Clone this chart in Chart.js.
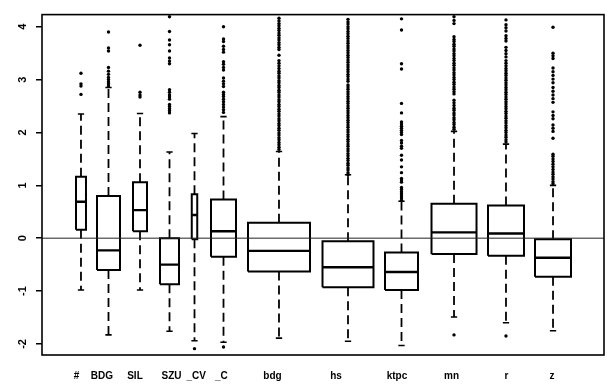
<!DOCTYPE html>
<html>
<head>
<meta charset="utf-8">
<script src="https://cdn.jsdelivr.net/npm/chart.js@4"></script>
<style>
  body { margin: 0; background: #fff; }
  #wrap { width: 612px; height: 386px; }
</style>
</head>
<body>
<div id="wrap"><canvas id="boxChart" width="612" height="386"></canvas></div>
<script>
// kategori (satu label per kotak)
const labels = ["#", "BDG", "SIL", "SZU", "_CV", "_C", "bdg", "hs", "ktpc", "mn", "r", "z"];

// posisi kotak dan lebar kotak (varwidth) pada sumbu x
const positions = [0.867, 1.479, 2.18, 2.836, 3.392, 4.037, 5.271, 6.806, 7.996, 9.164, 10.32, 11.366];
const widths = [0.222, 0.512, 0.311, 0.423, 0.122, 0.556, 1.379, 1.134, 0.734, 1.001, 0.801, 0.801];
const labelPositions = [0.767, 1.334, 2.068, 2.88, 3.43, 3.99, 5.127, 6.539, 7.896, 9.108, 10.331, 11.343];

// statistik kotak
const q1 = [0.16, -0.6, 0.13, -0.87, -0.02, -0.35, -0.63, -0.93, -0.98, -0.3, -0.33, -0.73];
const medians = [0.69, -0.23, 0.53, -0.5, 0.44, 0.13, -0.24, -0.55, -0.64, 0.11, 0.09, -0.37];
const q3 = [1.16, 0.8, 1.06, 0.0, 0.83, 0.73, 0.29, -0.06, -0.27, 0.65, 0.62, -0.02];
const whiskerLow = [-0.98, -1.83, -0.98, -1.76, -1.94, -1.97, -1.89, -1.95, -2.03, -1.49, -1.6, -1.75];
const whiskerHigh = [2.35, 2.85, 2.36, 1.63, 1.98, 2.3, 1.64, 1.2, 0.7, 2.02, 1.78, 1.0];

// pencilan (outlier) per kotak
const outliers = [
  [2.72, 2.88, 2.92, 3.12],
  [2.88, 2.92, 2.96, 3.0, 3.04, 3.1, 3.16, 3.23, 3.54, 3.6, 3.9],
  [2.67, 2.71, 2.76, 3.65],
  [2.37, 2.41, 2.45, 2.49, 2.53, 2.63, 2.67, 2.71, 2.76, 2.81, 3.3, 3.35, 3.41, 3.54, 3.66, 3.75, 3.91, 4.19],
  [-2.09],
  [-2.06, 2.38, 2.43, 2.48, 2.53, 2.58, 2.63, 2.68, 2.72, 2.76, 2.87, 2.92, 2.97, 3.03, 3.18, 3.23, 3.29, 3.34, 3.52, 3.57, 3.63, 3.72, 3.77, 4.0],
  [1.68, 1.72, 1.77, 1.81, 1.86, 1.9, 1.95, 1.99, 2.04, 2.08, 2.13, 2.17, 2.22, 2.26, 2.31, 2.35, 2.4, 2.44, 2.49, 2.53,
   2.58, 2.62, 2.67, 2.71, 2.76, 2.8, 2.85, 2.89, 2.94, 2.98, 3.03, 3.07, 3.12, 3.16, 3.21, 3.26, 3.31, 3.36, 3.46, 3.57,
   3.61, 3.66, 3.7, 3.75, 3.79, 3.84, 3.88, 3.93, 3.97, 4.02, 4.06, 4.11, 4.16],
  [1.2, 1.24, 1.29, 1.33, 1.38, 1.42, 1.47, 1.51, 1.56, 1.6, 1.65, 1.69, 1.74, 1.78, 1.83, 1.87, 1.92, 1.96, 2.01, 2.05,
   2.1, 2.14, 2.19, 2.23, 2.28, 2.32, 2.37, 2.41, 2.46, 2.5, 2.55, 2.59, 2.64, 2.68, 2.73, 2.77, 2.82, 2.86, 2.9, 2.97,
   3.01, 3.06, 3.1, 3.15, 3.19, 3.24, 3.28, 3.33, 3.37, 3.42, 3.46, 3.51, 3.55, 3.6, 3.64, 3.69, 3.73, 3.78, 3.82, 3.87,
   3.91, 3.96, 4.0, 4.05, 4.09, 4.14],
  [0.72, 0.76, 0.8, 0.84, 0.88, 0.92, 0.96, 1.06, 1.1, 1.13, 1.24, 1.35, 1.48, 1.57, 1.7, 1.74, 1.8, 1.85, 1.96, 2.0,
   2.04, 2.08, 2.12, 2.16, 2.2, 2.37, 2.55, 3.2, 3.3, 3.94, 4.15],
  [-1.83, 2.06, 2.1, 2.15, 2.19, 2.24, 2.28, 2.33, 2.37, 2.42, 2.46, 2.51, 2.56, 2.61, 2.73, 2.77, 2.82, 2.86, 2.91, 2.95,
   3.0, 3.04, 3.09, 3.13, 3.18, 3.22, 3.27, 3.31, 3.36, 3.4, 3.45, 3.49, 3.54, 3.58, 3.63, 3.67, 3.72, 3.76, 3.81, 4.06,
   4.12, 4.19],
  [-1.85, 1.82, 1.86, 1.91, 1.95, 2.0, 2.04, 2.09, 2.13, 2.18, 2.22, 2.27, 2.31, 2.36, 2.4, 2.45, 2.49, 2.54, 2.58, 2.63,
   2.67, 2.72, 2.76, 2.81, 2.85, 2.9, 2.94, 2.99, 3.03, 3.08, 3.12, 3.17, 3.21, 3.26, 3.31, 3.36, 3.43, 3.49, 3.55, 3.61,
   3.73, 3.78, 3.83, 3.92, 3.98, 4.04, 4.13],
  [1.03, 1.07, 1.12, 1.16, 1.21, 1.25, 1.3, 1.35, 1.4, 1.45, 1.5, 1.55, 1.59, 1.89, 2.02, 2.08, 2.14, 2.26, 2.32, 2.39,
   2.57, 2.64, 2.71, 2.78, 2.85, 2.94, 3.01, 3.08, 3.15, 3.22, 3.4, 3.45, 3.5, 3.99]
];

// tick sumbu y
const yTicks = [-2, -1, 0, 1, 2, 3, 4];

const X_MIN = 0;
const X_MAX = 12.5;
const STAPLE = 0.14;

// bangun titik-titik untuk dataset
const gap = { x: null, y: null };
const boxPts = [];
const medianPts = [];
const whiskerPts = [];
const staplePts = [];
const outlierPts = [];

positions.forEach((p, i) => {
  const half = widths[i] / 2;
  boxPts.push(
    { x: p - half, y: q1[i] }, { x: p + half, y: q1[i] },
    { x: p + half, y: q3[i] }, { x: p - half, y: q3[i] },
    { x: p - half, y: q1[i] }, gap
  );
  medianPts.push({ x: p - half, y: medians[i] }, { x: p + half, y: medians[i] }, gap);
  whiskerPts.push(
    { x: p, y: q1[i] }, { x: p, y: whiskerLow[i] }, gap,
    { x: p, y: q3[i] }, { x: p, y: whiskerHigh[i] }, gap
  );
  staplePts.push(
    { x: p - STAPLE / 2, y: whiskerLow[i] }, { x: p + STAPLE / 2, y: whiskerLow[i] }, gap,
    { x: p - STAPLE / 2, y: whiskerHigh[i] }, { x: p + STAPLE / 2, y: whiskerHigh[i] }, gap
  );
  outliers[i].forEach((v) => outlierPts.push({ x: p, y: v }));
});

// bingkai plot
const framePlugin = {
  id: "frame",
  afterDatasetsDraw(chart) {
    const { ctx, chartArea } = chart;
    ctx.save();
    ctx.strokeStyle = "#000";
    ctx.lineWidth = 1.6;
    ctx.strokeRect(chartArea.left, chartArea.top, chartArea.right - chartArea.left, chartArea.bottom - chartArea.top);
    ctx.restore();
  },
};

const lineDefaults = {
  showLine: true,
  pointRadius: 0,
  spanGaps: false,
  borderColor: "#000",
  fill: false,
};

new Chart(document.getElementById("boxChart"), {
  type: "scatter",
  data: {
    datasets: [
      { ...lineDefaults, data: [{ x: X_MIN, y: 0 }, { x: X_MAX, y: 0 }], borderWidth: 1, borderColor: "#222" },
      { ...lineDefaults, data: whiskerPts, borderWidth: 1.8, borderDash: [9, 5] },
      { ...lineDefaults, data: staplePts, borderWidth: 1.6 },
      { ...lineDefaults, data: boxPts, borderWidth: 2 },
      { ...lineDefaults, data: medianPts, borderWidth: 2.4 },
      {
        data: outlierPts,
        showLine: false,
        pointRadius: 1.7,
        pointBackgroundColor: "#000",
        pointBorderWidth: 0,
        pointHoverRadius: 0,
      },
    ],
  },
  options: {
    responsive: false,
    animation: false,
    devicePixelRatio: 1,
    layout: { padding: { left: 0, right: 8, top: 7, bottom: 0 } },
    plugins: {
      legend: { display: false },
      tooltip: { enabled: false },
    },
    scales: {
      x: {
        type: "linear",
        min: X_MIN,
        max: X_MAX,
        afterBuildTicks: (scale) => {
          scale.ticks = labelPositions.map((v) => ({ value: v }));
        },
        afterFit: (scale) => {
          scale.height = 31;
        },
        grid: { display: false, drawTicks: false },
        border: { display: false },
        ticks: {
          autoSkip: false,
          maxRotation: 0,
          padding: 15,
          color: "#000",
          font: { family: "Liberation Sans", size: 10, weight: "bold" },
          callback: (value, index) => labels[index],
        },
      },
      y: {
        min: -2.21,
        max: 4.23,
        afterBuildTicks: (scale) => {
          scale.ticks = yTicks.map((v) => ({ value: v }));
        },
        afterFit: (scale) => {
          scale.width = 42;
        },
        grid: {
          drawOnChartArea: false,
          drawTicks: true,
          tickLength: 6,
          color: "#000",
          lineWidth: 1.5,
        },
        border: { display: false },
        ticks: {
          minRotation: 90,
          maxRotation: 90,
          crossAlign: "center",
          padding: 8,
          color: "#000",
          font: { family: "Liberation Sans", size: 11, weight: "bold" },
        },
      },
    },
  },
  plugins: [framePlugin],
});
</script>
</body>
</html>
